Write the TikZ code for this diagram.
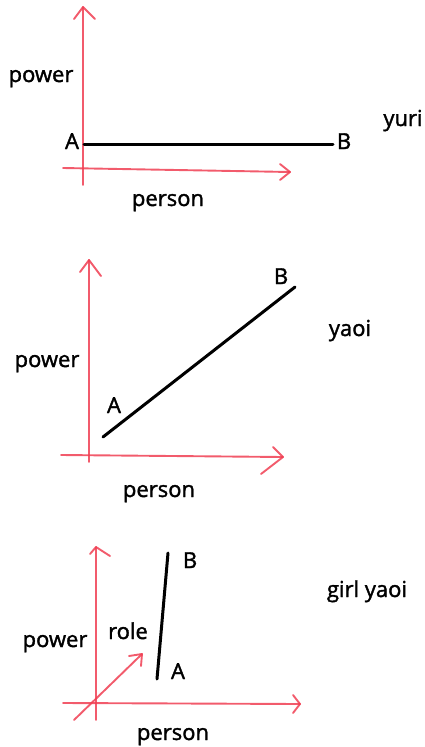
\documentclass[tikz,border=0pt]{standalone}
\usepackage{fontspec}
\setmainfont{Open Sans}
\newfontface\lblfont{Open Sans}[FakeBold=1.6]
\definecolor{pen}{RGB}{240,62,82}
\begin{document}
\begin{tikzpicture}[x=1pt,y=-1pt,
  axis/.style={draw=pen,draw opacity=0.85,line width=1.9pt,line cap=round,line join=round},
  seg/.style={draw=black,line width=3pt,line cap=round},
  lbl/.style={font=\lblfont\fontsize{22}{26}\selectfont,inner sep=0pt,anchor=base}]
\useasboundingbox (0,0) rectangle (425,747);
% ---------- panel 1: yuri
\coordinate (v1b) at (83,185); \coordinate (v1t) at (83,7);
\coordinate (h1l) at (63,168); \coordinate (h1r) at (290,172);
\draw[axis] (v1b) -- (v1t);
\draw[axis] (74,19) -- (v1t) -- (95,19);
\draw[axis] (h1l) -- (h1r);
\draw[axis] (280,164) -- (h1r) -- (280,180);
\coordinate (a1) at (84,144); \coordinate (b1) at (333,144);
\draw[seg] (a1) -- (b1);
\node[lbl] (A1) at (72,149) {A};
\node[lbl] (B1) at (344,149) {B};
\node[lbl] (pow1) at (41,82) {power};
\node[lbl] (yuri) at (403,126) {yuri};
\node[lbl] (per1) at (168,206) {person};
% ---------- panel 2: yaoi
\coordinate (v2b) at (89,462); \coordinate (v2t) at (89,260);
\coordinate (h2l) at (61,455); \coordinate (h2r) at (283,457);
\draw[axis] (v2b) -- (v2t);
\draw[axis] (80,272) -- (v2t) -- (101,276);
\draw[axis] (h2l) -- (h2r);
\draw[axis] (273,447) -- (h2r) -- (261,474);
\coordinate (a2) at (103,437); \coordinate (b2) at (295,287);
\draw[seg] (a2) -- (b2);
\node[lbl] (A2) at (114,413) {A};
\node[lbl] (B2) at (281,284) {B};
\node[lbl] (pow2) at (47,367) {power};
\node[lbl] (yaoi) at (350,336) {yaoi};
\node[lbl] (per2) at (159,497) {person};
% ---------- panel 3: girl yaoi
\coordinate (v3b) at (96,720); \coordinate (v3t) at (96,547);
\coordinate (h3l) at (63,703); \coordinate (h3r) at (300,704);
\coordinate (d3l) at (74,720); \coordinate (d3r) at (142,654);
\draw[axis] (v3b) -- (v3t);
\draw[axis] (90,554) -- (v3t) -- (110,556);
\draw[axis] (h3l) -- (h3r);
\draw[axis] (293,695) -- (h3r) -- (293,713);
\draw[axis] (d3l) -- (d3r);
\draw[axis] (129,656) -- (d3r) -- (141,666);
\coordinate (a3) at (157,679); \coordinate (b3) at (168,553);
\draw[seg] (a3) -- (b3);
\node[lbl] (A3) at (178,679) {A};
\node[lbl] (B3) at (190,568) {B};
\node[lbl] (role) at (128,639) {role};
\node[lbl] (pow3) at (55,647) {power};
\node[lbl] (gy) at (367,597) {girl yaoi};
\node[lbl] (per3) at (173,740) {person};
\end{tikzpicture}
\end{document}
